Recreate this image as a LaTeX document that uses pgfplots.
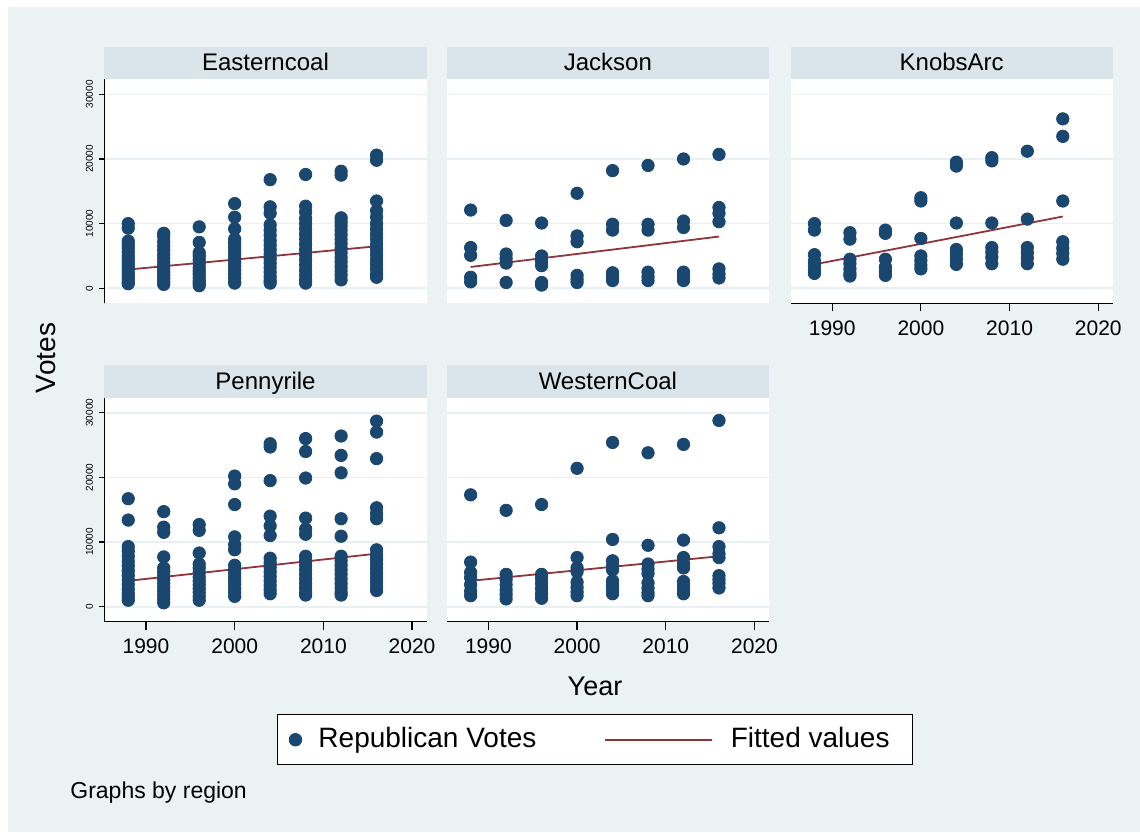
\documentclass[border=0pt]{standalone}
\usepackage{pgfplots}
\pgfplotsset{compat=1.18}
\usepackage{pgfplotstable}
\usepackage{fontspec}
\setmainfont{Liberation Sans}

\definecolor{stnavy}{RGB}{26,71,111}
\definecolor{stmaroon}{RGB}{144,53,59}
\definecolor{stbg}{RGB}{234,242,243}
\definecolor{ststrip}{RGB}{217,229,234}
\definecolor{stgrid}{RGB}{233,240,242}

% Republican votes by county, one table per region
\pgfplotstableread{
year votes
1988 10000
1988 9300
1988 7300
1988 6800
1988 6200
1988 5600
1988 5000
1988 4500
1988 4000
1988 3500
1988 3000
1988 2500
1988 2000
1988 1500
1988 1000
1988 700
1992 8500
1992 8000
1992 7200
1992 6500
1992 5900
1992 5200
1992 4600
1992 4000
1992 3500
1992 3000
1992 2500
1992 2000
1992 1500
1992 1000
1992 600
1996 9500
1996 7100
1996 5500
1996 5000
1996 4400
1996 3800
1996 3200
1996 2700
1996 2200
1996 1700
1996 1200
1996 800
1996 400
2000 13100
2000 11000
2000 9200
2000 7600
2000 7000
2000 6400
2000 5800
2000 5200
2000 4600
2000 4000
2000 3400
2000 2800
2000 2200
2000 1600
2000 1000
2000 800
2004 16800
2004 12600
2004 11600
2004 9800
2004 9000
2004 8200
2004 7400
2004 6700
2004 6000
2004 5300
2004 4600
2004 3900
2004 3200
2004 2500
2004 1800
2004 1200
2004 800
2008 17600
2008 12700
2008 11800
2008 10800
2008 10000
2008 9200
2008 8400
2008 7600
2008 6800
2008 6000
2008 5200
2008 4400
2008 3600
2008 2800
2008 2000
2008 1300
2008 800
2012 18100
2012 17500
2012 10900
2012 10300
2012 9700
2012 9000
2012 8300
2012 7600
2012 6900
2012 6200
2012 5500
2012 4800
2012 4100
2012 3400
2012 2700
2012 2000
2012 1300
2016 20600
2016 19800
2016 13500
2016 12000
2016 11000
2016 10000
2016 9200
2016 8400
2016 7600
2016 6800
2016 6000
2016 5200
2016 4400
2016 3700
2016 3000
2016 2200
2016 1700
}\easterncoal

\pgfplotstableread{
year votes
1988 12100
1988 6300
1988 5100
1988 1700
1988 1000
1992 10500
1992 5300
1992 4600
1992 3900
1992 900
1996 10100
1996 5000
1996 4200
1996 3500
1996 900
1996 500
2000 14700
2000 8100
2000 7200
2000 2000
2000 1400
2000 900
2004 18200
2004 9900
2004 9000
2004 2400
2004 1800
2004 1200
2008 19000
2008 9900
2008 9000
2008 2500
2008 1800
2008 1200
2012 20000
2012 10400
2012 9400
2012 2500
2012 1800
2012 1200
2016 20700
2016 12500
2016 11600
2016 10300
2016 3000
2016 2200
2016 1600
}\jackson

\pgfplotstableread{
year votes
1988 10000
1988 9000
1988 5200
1988 4200
1988 3500
1988 2800
1988 2300
1992 8600
1992 7600
1992 4500
1992 3800
1992 3000
1992 2300
1992 1900
1996 9000
1996 8500
1996 4500
1996 3300
1996 2600
1996 2000
2000 14000
2000 13500
2000 7700
2000 5000
2000 4300
2000 3600
2000 3000
2004 19500
2004 18900
2004 10100
2004 6000
2004 5300
2004 4500
2004 3700
2008 20200
2008 19700
2008 10100
2008 6300
2008 5600
2008 4800
2008 3800
2012 21200
2012 10700
2012 6300
2012 5500
2012 4700
2012 3800
2016 26200
2016 23500
2016 13500
2016 7200
2016 6200
2016 5400
2016 4500
}\knobsarc

\pgfplotstableread{
year votes
1988 16700
1988 13400
1988 9300
1988 8600
1988 7800
1988 7000
1988 6300
1988 5600
1988 4900
1988 4200
1988 3500
1988 2800
1988 2100
1988 1500
1988 1000
1992 14700
1992 12300
1992 11500
1992 7700
1992 6000
1992 5400
1992 4800
1992 4200
1992 3600
1992 3000
1992 2400
1992 1800
1992 1200
1992 600
1996 12700
1996 11800
1996 8300
1996 6600
1996 6000
1996 5300
1996 4600
1996 4000
1996 3400
1996 2800
1996 2200
1996 1600
1996 1000
2000 20200
2000 19000
2000 15800
2000 10800
2000 9600
2000 8800
2000 6400
2000 5800
2000 5200
2000 4600
2000 4000
2000 3400
2000 2800
2000 2200
2000 1600
2004 25200
2004 24700
2004 19500
2004 14000
2004 12500
2004 11000
2004 7500
2004 6800
2004 6100
2004 5400
2004 4700
2004 4000
2004 3300
2004 2600
2004 2000
2008 26000
2008 24000
2008 19900
2008 13700
2008 12000
2008 11200
2008 7800
2008 7100
2008 6400
2008 5700
2008 5000
2008 4300
2008 3600
2008 2900
2008 2200
2008 1800
2012 26400
2012 23400
2012 20700
2012 13600
2012 10900
2012 7800
2012 7100
2012 6400
2012 5700
2012 5000
2012 4300
2012 3600
2012 2900
2012 2200
2012 1800
2016 28700
2016 27000
2016 22900
2016 15300
2016 14400
2016 13600
2016 8800
2016 8000
2016 7300
2016 6600
2016 5900
2016 5200
2016 4500
2016 3800
2016 3100
2016 2500
}\pennyrile

\pgfplotstableread{
year votes
1988 17300
1988 6900
1988 5300
1988 4500
1988 3400
1988 2400
1988 1700
1992 14900
1992 5000
1992 4200
1992 3400
1992 2600
1992 1900
1992 1200
1996 15800
1996 5000
1996 4400
1996 3600
1996 2800
1996 2000
1996 1300
2000 21400
2000 7600
2000 6000
2000 5400
2000 3800
2000 3000
2000 2300
2000 1700
2004 25400
2004 10400
2004 7100
2004 6300
2004 5700
2004 4000
2004 3300
2004 2700
2004 2000
2008 23800
2008 9500
2008 6600
2008 5800
2008 5100
2008 3700
2008 2900
2008 2200
2008 1700
2012 25100
2012 10300
2012 7600
2012 6700
2012 6000
2012 3900
2012 3200
2012 2500
2012 2000
2016 28800
2016 12200
2016 9300
2016 8200
2016 7600
2016 4800
2016 4200
2016 3600
2016 2900
}\westerncoal

% Linear fits, end points
\pgfplotstableread{
year fit
1988 2900
2016 6500
}\fiteastern
\pgfplotstableread{
year fit
1988 3300
2016 8000
}\fitjackson
\pgfplotstableread{
year fit
1988 3700
2016 11100
}\fitknobs
\pgfplotstableread{
year fit
1988 4000
2016 8200
}\fitpenny
\pgfplotstableread{
year fit
1988 4000
2016 7800
}\fitwestern

\pgfplotsset{
  panel/.style={
    scale only axis, width=161.2pt, height=112pt,
    xmin=1985.3, xmax=2021.65, ymin=-2320, ymax=32320,
    clip=false,
    axis background/.style={fill=white},
    axis x line*=bottom, axis y line*=left,
    axis line style={-, black, line width=0.6pt},
    xtick={1990,2000,2010,2020},
    ytick={0,10000,20000,30000},
    scaled y ticks=false,
    ymajorgrids,
    major grid style={draw=stgrid, line width=0.8pt},
    tick align=outside,
    xtick style={black, line width=0.6pt, /pgfplots/major tick length=4pt},
    ytick style={black, line width=0.6pt, /pgfplots/major tick length=2.5pt},
    /pgf/number format/1000 sep={},
    /pgf/number format/assume math mode=true,
    xticklabel style={font=\fontsize{10.5}{12}\selectfont, yshift=-1pt},
    yticklabel style={font=\fontsize{5}{6}\selectfont, rotate=90, anchor=south, inner sep=1.2pt},
  },
  hidex/.style={x axis line style={draw=none}, xtick=\empty},
  hidey/.style={y axis line style={draw=none}, ytick style={draw=none}, yticklabels={}},
  votes/.style={only marks, mark=*, mark size=3.1pt, color=stnavy, mark options={fill=stnavy, draw=stnavy}},
  fitline/.style={no marks, color=stmaroon, line width=0.9pt},
  votesleg/.style={legend image code/.code={\draw[##1] plot coordinates {(0pt,0pt)};}},
  fitleg/.style={legend image code/.code={\draw[##1] (0pt,0pt) -- (53.5pt,0pt);}},
}

\newcommand{\striptitle}[1]{%
  \fill[ststrip] (rel axis cs:0,1) rectangle (rel axis cs:1,1.1455);
  \node[anchor=base, inner sep=0pt, font=\fontsize{12}{14}\selectfont] at (rel axis cs:0.5,1.0384) {#1};
}

\begin{document}
\begin{tikzpicture}
\useasboundingbox (0,0) rectangle (570pt,416pt);
\fill[white] (0,0) rectangle (570pt,416pt);
\fill[stbg] (4pt,0pt) rectangle (570pt,412.5pt);

% top row
\begin{axis}[panel, hidex, at={(52.15pt,264.35pt)}, anchor=south west]
  \addplot[votes] table[x=year, y=votes] {\easterncoal};
  \addplot[fitline] table[x=year, y=fit] {\fiteastern};
  \striptitle{Easterncoal}
\end{axis}

\begin{axis}[panel, hidex, hidey, at={(223.35pt,264.35pt)}, anchor=south west]
  \addplot[votes] table[x=year, y=votes] {\jackson};
  \addplot[fitline] table[x=year, y=fit] {\fitjackson};
  \striptitle{Jackson}
\end{axis}

\begin{axis}[panel, hidey, at={(395.25pt,264.35pt)}, anchor=south west]
  \addplot[votes] table[x=year, y=votes] {\knobsarc};
  \addplot[fitline] table[x=year, y=fit] {\fitknobs};
  \striptitle{KnobsArc}
\end{axis}

% bottom row
\begin{axis}[panel, at={(52.15pt,105.15pt)}, anchor=south west]
  \addplot[votes] table[x=year, y=votes] {\pennyrile};
  \addplot[fitline] table[x=year, y=fit] {\fitpenny};
  \striptitle{Pennyrile}
\end{axis}

\begin{axis}[panel, hidey, at={(223.35pt,105.15pt)}, anchor=south west,
  legend columns=4,
  legend style={
    at={(0.46,-0.527)}, anchor=center,
    draw=black, line width=0.5pt, fill=white,
    font=\fontsize{14}{16}\selectfont,
    inner xsep=6pt, inner ysep=6.5pt,
    nodes={inner sep=0pt, text depth=0.2em},
    /tikz/column 1/.style={column sep=8.4pt},
    /tikz/column 2/.style={column sep=33.8pt},
    /tikz/column 3/.style={column sep=9pt},
  },
  legend cell align=left,
]
  \addplot[votes, votesleg] table[x=year, y=votes] {\westerncoal};
  \addlegendentry{Republican Votes}
  \addplot[fitline, fitleg] table[x=year, y=fit] {\fitwestern};
  \addlegendentry{Fitted values\hspace*{5.6pt}}
  \striptitle{WesternCoal}
\end{axis}

\node[rotate=90, font=\fontsize{14}{16}\selectfont] at (23pt,237pt) {Votes};
\node[font=\fontsize{13.5}{16}\selectfont] at (297.5pt,73pt) {Year};
\node[anchor=west, font=\fontsize{11.5}{14}\selectfont, inner sep=0pt] at (35pt,19.5pt) {Graphs by region};
\end{tikzpicture}
\end{document}
